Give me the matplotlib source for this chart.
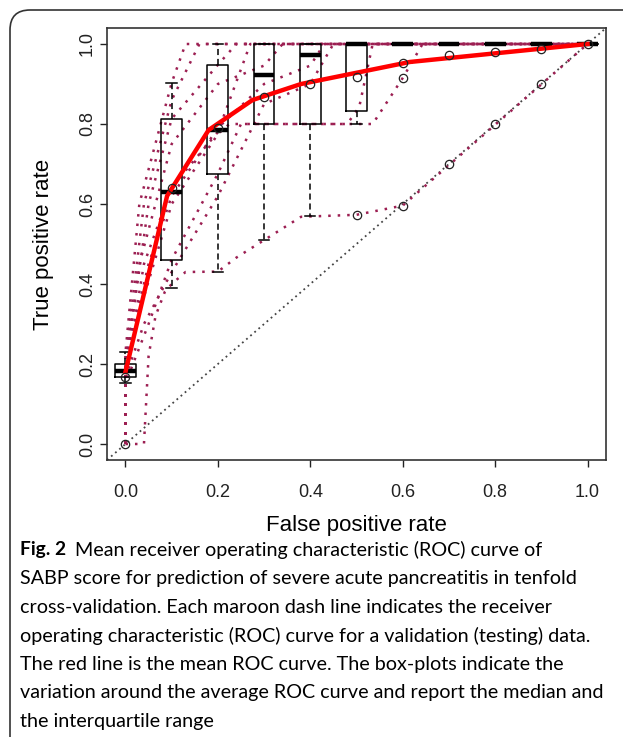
import numpy as np
import matplotlib
matplotlib.use("Agg")
from matplotlib import pyplot as plt
from matplotlib.path import Path
from matplotlib.patches import PathPatch

# ROC curves of the 10 validation folds (fpr, tpr)
fold_fpr = [
  [0, 0.04, 0.05, 0.065, 0.085, 0.1, 0.13, 0.2, 0.24, 0.38, 0.5, 0.6, 1],
  [0, 0, 0.03, 0.1, 0.2, 0.225, 0.535, 0.6, 0.643, 1],
  [0, 0, 0.05, 0.1, 0.2, 0.25, 0.48, 0.506, 0.535, 1],
  [0, 0, 0.04, 0.1, 0.2, 0.3, 0.4, 0.45, 1],
  [0, 0, 0.05, 0.1, 0.2, 0.3, 0.4, 0.43, 1],
  [0, 0, 0.03, 0.1, 0.2, 0.3, 0.34, 1],
  [0, 0, 0.04, 0.1, 0.2, 0.27, 1],
  [0, 0, 0.05, 0.1, 0.2, 0.24, 1],
  [0, 0, 0.04, 0.1, 0.16, 1],
  [0, 0, 0.03, 0.1, 0.13, 1],
]
fold_tpr = [
  [0, 0, 0.22, 0.32, 0.38, 0.40, 0.43, 0.431, 0.466, 0.568, 0.573, 0.596, 1],
  [0, 0.18, 0.33, 0.60, 0.775, 0.80, 0.80, 0.915, 1, 1],
  [0, 0.152, 0.30, 0.461, 0.676, 0.80, 0.80, 0.843, 1, 1],
  [0, 0.167, 0.30, 0.43, 0.62, 0.85, 0.90, 1, 1],
  [0, 0.20, 0.45, 0.62, 0.79, 0.90, 0.946, 1, 1],
  [0, 0.184, 0.45, 0.75, 0.90, 0.946, 1, 1],
  [0, 0.17, 0.45, 0.642, 0.78, 1, 1],
  [0, 0.19, 0.60, 0.813, 0.948, 1, 1],
  [0, 0.21, 0.60, 0.86, 1, 1],
  [0, 0.229, 0.60, 0.903, 1, 1],
]

# box-plot summary at each false positive rate
box_x = [0.0, 0.1, 0.2, 0.3, 0.4, 0.5, 0.6, 0.7, 0.8, 0.9, 1.0]
box_lo = [0.152, 0.39, 0.431, 0.509, 0.571, 0.80, 1, 1, 1, 1, 1]
box_q1 = [0.167, 0.461, 0.676, 0.80, 0.80, 0.833, 1, 1, 1, 1, 1]
box_med = [0.182, 0.631, 0.786, 0.923, 0.973, 1, 1, 1, 1, 1, 1]
box_q3 = [0.20, 0.813, 0.948, 1, 1, 1, 1, 1, 1, 1, 1]
box_hi = [0.229, 0.903, 1, 1, 1, 1, 1, 1, 1, 1, 1]
box_out = [[0.0], [], [], [], [], [0.573], [0.915, 0.596], [0.70], [0.80], [0.90], []]
box_mean = [0.167, 0.64, 0.79, 0.868, 0.90, 0.918, 0.953, 0.973, 0.98, 0.987, 1.0]

# mean ROC curve (red)
mean_fpr = [0, 0.09, 0.18, 0.275, 0.38, 0.615, 1.0]
mean_tpr = [0.18, 0.62, 0.785, 0.86, 0.90, 0.955, 1.0]

caption = [
  "SABP score for prediction of severe acute pancreatitis in tenfold",
  "cross-validation. Each maroon dash line indicates the receiver",
  "operating characteristic (ROC) curve for a validation (testing) data.",
  "The red line is the mean ROC curve. The box-plots indicate the",
  "variation around the average ROC curve and report the median and",
  "the interquartile range",
]

W, H = 623, 737
fig = plt.figure(figsize=(W / 100, H / 100), dpi=100)
ax = fig.add_axes([107 / W, 1 - 460 / H, 499 / W, 432 / H])

maroon = "#9c1f52"
for fx, fy in zip(fold_fpr, fold_tpr):
  ax.plot(fx, fy, color=maroon, lw=1.8, linestyle=(0, (1, 2.8)), zorder=2)

ax.axline((0, 0), (1, 1), color="#444444", lw=1.3, linestyle=(0, (1, 2.0)), zorder=1)

stats = []
for i in range(len(box_x)):
  stats.append(dict(med=box_med[i], q1=box_q1[i], q3=box_q3[i],
                    whislo=box_lo[i], whishi=box_hi[i], fliers=box_out[i]))
ax.bxp(stats, positions=box_x, widths=0.045, manage_ticks=False, zorder=3,
       boxprops=dict(color="black", lw=1.1),
       medianprops=dict(color="black", lw=3.2, solid_capstyle="butt"),
       whiskerprops=dict(color="black", lw=1.1, linestyle=(0, (4, 2.5))),
       capprops=dict(color="black", lw=1.1),
       flierprops=dict(marker="o", mfc="none", mec="#222222", ms=6, mew=0.9))

ax.plot(mean_fpr, mean_tpr, color="#ff0000", lw=3.2, zorder=4)
ax.plot(box_x, box_mean, "o", mfc="none", mec="#222222", ms=6, mew=0.9, zorder=5)

ax.set_xlim(-0.04, 1.04)
ax.set_ylim(-0.04, 1.04)
ticks = [0.0, 0.2, 0.4, 0.6, 0.8, 1.0]
ax.set_xticks(ticks)
ax.set_yticks(ticks)
ax.set_xticklabels(["%.1f" % t for t in ticks], fontsize=13, family="Liberation Sans")
ax.set_yticklabels(["%.1f" % t for t in ticks], fontsize=13, family="Liberation Sans",
                   rotation=90, va="center")
ax.tick_params(direction="out", length=5, width=1, colors="#222222", pad=3)
ax.tick_params(axis="x", pad=12)
for s in ax.spines.values():
  s.set_linewidth(1.2)
  s.set_color("#333333")
ax.set_xlabel("False positive rate", fontsize=16, family="Liberation Sans", va="center")
ax.set_ylabel("True positive rate", fontsize=16, family="Liberation Sans", va="center")
ax.xaxis.set_label_coords(0.5, (460 - 526) / 432)
ax.yaxis.set_label_coords((44 - 107) / 499, 0.5)

# caption
cap_font = "Lato"
cs = 14.2
fig.text(20 / W, 1 - 550 / H, "Fig. 2", fontsize=cs - 0.4, family=cap_font, weight="bold", va="center")
fig.text(75 / W, 1 - 550 / H, "Mean receiver operating characteristic (ROC) curve of",
         fontsize=cs, family=cap_font, va="center")
for k, line in enumerate(caption):
  fig.text(20 / W, 1 - (578.5 + 28.6 * k) / H, line, fontsize=cs, family=cap_font, va="center")

# rounded frame round the figure
verts = [(10, H), (10, 30), (10, 10), (30, 10), (W, 10)]
codes = [Path.MOVETO, Path.LINETO, Path.CURVE3, Path.CURVE3, Path.LINETO]
verts = [(x / W, 1 - y / H) for x, y in verts]
fig.patches.append(PathPatch(Path(verts, codes), fill=False, lw=1.2, ec="#333333",
                             transform=fig.transFigure))

fig.savefig("out.png", dpi=100)
